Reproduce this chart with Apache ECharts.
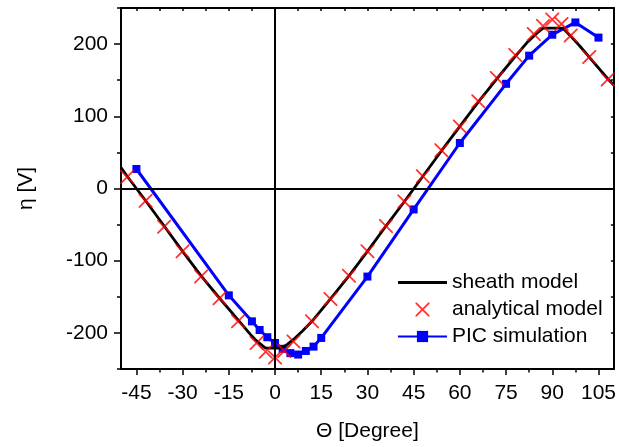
<!DOCTYPE html>
<html>
<head>
<meta charset="utf-8">
<script src="https://cdn.jsdelivr.net/npm/echarts@6/dist/echarts.min.js"></script>
<style>html,body{margin:0;padding:0;background:#fff}#c{width:619px;height:447px}</style>
</head>
<body>
<div id="c"></div>
<script>
// Sheath model (black line)
const sheathX = [-50,-48,-42,-36,-30,-24,-18,-12,-8,-6,-4,-3,2,4,6,9,12,18,24,30,36,42,48,54,60,66,72,78,82,85,87,93.5,96,99,102,108,110];
const sheathY = [29,17,-17,-52,-87,-121,-152,-182,-202,-211,-218,-221,-221,-216,-209,-197,-184,-153,-121,-87,-52,-18,17,52,86,120,152,183,203,215,222,222,211,197,182,152,143];
// Analytical model (red crosses)
const anaX = [-48,-42,-36,-30,-24,-18,-12,-6,-3,0,3,6,12,18,24,30,36,42,48,54,60,66,72,78,84,87,90,93,96,102,108];
const anaY = [16,-17,-53,-87,-122,-152,-184,-214,-226,-234,-225,-212,-184,-153,-121,-87,-52,-18,17,53,86,121,153,185,214,225,234,228,212,182,151];
// PIC simulation (blue squares)
const picX = [-45,-15,-7.5,-5,-2.5,0,2.5,5,7.5,10,12.5,15,30,45,60,75,82.5,90,97.5,105];
const picY = [27,-148,-184,-196,-206,-214,-222,-228,-230,-225,-219,-207,-122,-29,63,145,184,213,230,209];
// Axis ticks
const xMajor = [-45,-30,-15,0,15,30,45,60,75,90,105];
const xMinor = [-37.5,-22.5,-7.5,7.5,22.5,37.5,52.5,67.5,82.5,97.5];
const yMajor = [-200,-100,0,100,200];
const yMinor = [-250,-150,-50,50,150,250];

const zip = (a, b) => a.map((v, i) => [v, b[i]]);
const allX = xMajor.concat(xMinor).sort((a, b) => a - b);
const allY = yMajor.concat(yMinor).sort((a, b) => a - b);
const FONT = 'Liberation Sans, Arial, sans-serif';
const crossPath = 'path://M0,0L9,0L100,91L100,100L91,100L0,9ZM100,0L100,9L9,100L0,100L0,91L91,0Z';
const barPath = 'path://M0,0L100,0L100,6L0,6Z';
const axisLineStyle = {color: '#000', width: 2};

const chart = echarts.init(document.getElementById('c'));
chart.setOption({
  animation: false,
  backgroundColor: '#fff',
  grid: {left: 121, right: 4, top: 8, bottom: 77},
  xAxis: [
    {type: 'value', min: -50, max: 110, position: 'bottom',
     axisLine: {onZero: false, lineStyle: axisLineStyle},
     axisTick: {customValues: xMajor, length: 6, lineStyle: {color: '#000', width: 1.5}},
     axisLabel: {customValues: xMajor, fontSize: 21, color: '#000', fontFamily: FONT, margin: 14},
     splitLine: {show: false},
     name: 'Θ [Degree]', nameLocation: 'middle', nameGap: 52,
     nameTextStyle: {fontSize: 21, color: '#000', fontFamily: FONT}},
    {type: 'value', min: -50, max: 110, position: 'top',
     axisLine: {onZero: false, lineStyle: axisLineStyle},
     axisTick: {inside: true, customValues: allX, length: 3, lineStyle: {color: '#000', width: 1.5}},
     axisLabel: {show: false}, splitLine: {show: false}},
    {type: 'value', min: -50, max: 110, position: 'bottom', offset: 0,
     axisLine: {show: false, onZero: false},
     axisTick: {customValues: xMinor, length: 3.5, lineStyle: {color: '#000', width: 1.5}},
     axisLabel: {show: false}, splitLine: {show: false}}
  ],
  yAxis: [
    {type: 'value', min: -250, max: 250, position: 'left',
     axisLine: {onZero: false, lineStyle: axisLineStyle},
     axisTick: {customValues: yMajor, length: 7, lineStyle: {color: '#000', width: 1.5}},
     axisLabel: {customValues: yMajor, fontSize: 21, color: '#000', fontFamily: FONT, margin: 13},
     splitLine: {show: false},
     name: 'η [V]', nameLocation: 'middle', nameGap: 84,
     nameTextStyle: {fontSize: 21, color: '#000', fontFamily: FONT}},
    {type: 'value', min: -250, max: 250, position: 'right',
     axisLine: {onZero: false, lineStyle: axisLineStyle},
     axisTick: {inside: true, customValues: allY, length: 3, lineStyle: {color: '#000', width: 1.5}},
     axisLabel: {show: false}, splitLine: {show: false}},
    {type: 'value', min: -250, max: 250, position: 'left', offset: 0,
     axisLine: {show: false, onZero: false},
     axisTick: {customValues: yMinor, length: 4, lineStyle: {color: '#000', width: 1.5}},
     axisLabel: {show: false}, splitLine: {show: false}}
  ],
  legend: {
    orient: 'vertical', left: 392, top: 267,
    itemWidth: 49, itemHeight: 14, itemGap: 6,
    textStyle: {fontSize: 21, color: '#000', fontFamily: FONT},
    data: [
      {name: 'sheath model', icon: barPath},
      {name: 'analytical model', icon: crossPath},
      {name: 'PIC simulation'}
    ]
  },
  series: [
    {name: 'sheath model', type: 'line', xAxisIndex: 0, yAxisIndex: 0,
     data: zip(sheathX, sheathY), showSymbol: false, symbol: 'none',
     lineStyle: {color: '#000', width: 2.8}, itemStyle: {color: '#000'}, z: 3,
     markLine: {silent: true, symbol: 'none', label: {show: false},
       lineStyle: {color: '#000', width: 2, type: 'solid'},
       data: [{xAxis: 0}, {yAxis: 0}]}},
    {name: 'analytical model', type: 'scatter', xAxisIndex: 0, yAxisIndex: 0,
     data: zip(anaX, anaY), symbol: crossPath, symbolSize: 14,
     itemStyle: {color: '#ff0000'}, z: 4},
    {name: 'PIC simulation', type: 'line', xAxisIndex: 0, yAxisIndex: 0,
     data: zip(picX, picY), symbol: 'rect', symbolSize: 8, showAllSymbol: true,
     lineStyle: {color: '#0000ff', width: 3}, itemStyle: {color: '#0000ff'}, z: 2}
  ]
});
</script>
</body>
</html>
